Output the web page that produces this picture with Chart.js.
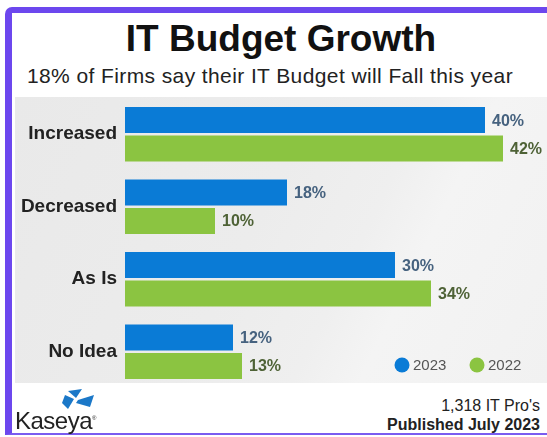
<!DOCTYPE html>
<html>
<head>
<meta charset="utf-8">
<script src="https://cdn.jsdelivr.net/npm/chart.js@4.4.1/dist/chart.umd.min.js"></script>
<style>
  html, body { margin: 0; padding: 0; background: #fff; }
  body { width: 547px; height: 437px; position: relative; overflow: hidden;
         font-family: "Liberation Sans", Arial, sans-serif; }
  #frame { position: absolute; left: 5px; top: 7px; width: 560px; height: 420px;
           border-left: 7px solid #6c47ee; border-top: 6px solid #6c47ee;
           border-bottom: 2px solid #7a5cf0; border-top-left-radius: 7px; }
  #title { position: absolute; left: 80px; width: 402px; top: 19px; text-align: center;
           font-size: 37px; font-weight: bold; color: #111; line-height: 40px; }
  #subtitle { position: absolute; left: 12px; width: 516px; top: 64px; text-align: center;
              font-size: 21px; letter-spacing: 0.4px; color: #222; line-height: 24px; }
  #panel { position: absolute; left: 15px; top: 97px; width: 532px; height: 286px;
           background: linear-gradient(116deg, #e9e9e9 0%, #ececec 45%, #efefef 62%, #f4f4f4 72%, #f1f1f1 100%); }
  #wrap { position: absolute; left: 15px; top: 96px; width: 532px; height: 294px; }
  #logo { position: absolute; left: 14px; top: 388px; width: 90px; height: 46px; }
  #logo svg { position: absolute; left: 48px; top: 1px; }
  #logo span { position: absolute; left: 1px; top: 19px; font-size: 24px; color: #222;
               letter-spacing: -0.5px; font-family: "Liberation Sans", Arial, sans-serif; }
  #logo sup { font-size: 6px; }
  #note { position: absolute; right: 7px; top: 396px; text-align: right; color: #222; }
  #note .n { font-size: 16px; line-height: 19px; }
  #note .p { font-size: 16px; font-weight: bold; line-height: 20px; }
</style>
</head>
<body>
<div id="frame"></div>
<div id="title">IT Budget Growth</div>
<div id="subtitle">18% of Firms say their IT Budget will Fall this year</div>
<div id="panel"></div>
<div id="wrap"><canvas id="budgetChart" width="532" height="294"></canvas></div>
<div id="logo">
  <svg width="34" height="22" viewBox="0 0 34 22">
    <path d="M6 2 L20 0 L14 9 Z" fill="#1b78c8"/>
    <path d="M3 6 L12 10 L6 20 L0 14 Z" fill="#1b78c8"/>
    <path d="M16 11 L32 6 L28 18 L14 14 Z" fill="#1b78c8"/>
  </svg>
  <span>Kaseya<sup>®</sup></span>
</div>
<div id="note">
  <div class="n">1,318 IT Pro's</div>
  <div class="p">Published July 2023</div>
</div>
<script>
"use strict";
// data
const categories = ['Increased', 'Decreased', 'As Is', 'No Idea'];
const values2023 = [40, 18, 30, 12];
const values2022 = [42, 10, 34, 13];
const seriesNames = ['2023', '2022'];

const barColors = ['#0a7bd6', '#8bc441'];
const valueColors = ['#46627f', '#4e6236'];

// draws the "40%" style labels at the end of each bar
const valueLabels = {
    id: 'valueLabels',
    afterDatasetsDraw(chart) {
        const ctx = chart.ctx;
        ctx.save();
        ctx.font = 'bold 16px "Liberation Sans", Arial, sans-serif';
        ctx.textBaseline = 'middle';
        ctx.textAlign = 'left';
        chart.data.datasets.forEach((ds, i) => {
            const meta = chart.getDatasetMeta(i);
            ctx.fillStyle = valueColors[i];
            meta.data.forEach((bar, j) => {
                ctx.fillText(ds.data[j] + '%', bar.x + 7, bar.y + 1);
            });
        });
        ctx.restore();
    }
};

// legend sits inside the plot, bottom right
const cornerLegend = {
    id: 'cornerLegend',
    afterDraw(chart) {
        const ctx = chart.ctx;
        const area = chart.chartArea;
        const y = 269;
        const spots = [area.right - 128, area.right - 53];
        ctx.save();
        ctx.font = '15px "Liberation Sans", Arial, sans-serif';
        ctx.textBaseline = 'middle';
        chart.data.datasets.forEach((ds, i) => {
            ctx.beginPath();
            ctx.arc(spots[i], y, 7.5, 0, Math.PI * 2);
            ctx.fillStyle = ds.backgroundColor;
            ctx.fill();
            ctx.fillStyle = '#555';
            ctx.fillText(ds.label, spots[i] + 11, y + 1);
        });
        ctx.restore();
    }
};

function initializeChart() {
    const canvas = document.getElementById('budgetChart');
    const ctx = canvas.getContext('2d');
    new Chart(ctx, {
        type: 'bar',
        data: {
            labels: categories,
            datasets: [{
                    label: seriesNames[0],
                    data: values2023,
                    backgroundColor: barColors[0]
                }, {
                    label: seriesNames[1],
                    data: values2022,
                    backgroundColor: barColors[1]
                }]
        },
        options: {
            indexAxis: 'y',
            responsive: false,
            animation: false,
            categoryPercentage: 0.78,
            barPercentage: 0.92,
            layout: {
                padding: { top: 2, bottom: 2, left: 0, right: 17 }
            },
            plugins: {
                legend: { display: false },
                tooltip: { enabled: false }
            },
            scales: {
                x: {
                    display: false,
                    min: 0,
                    max: 45
                },
                y: {
                    grid: { display: false, drawTicks: false },
                    border: { display: false },
                    afterFit: scale => {
                        scale.width = 110;
                        // labels sit mid-band, no extra room needed above/below
                        scale.paddingTop = 0;
                        scale.paddingBottom = 0;
                    },
                    ticks: {
                        padding: 8,
                        color: '#222',
                        font: { family: '"Liberation Sans", Arial, sans-serif', size: 19, weight: 'bold' }
                    }
                }
            }
        },
        plugins: [valueLabels, cornerLegend]
    });
}
initializeChart();
</script>
</body>
</html>
